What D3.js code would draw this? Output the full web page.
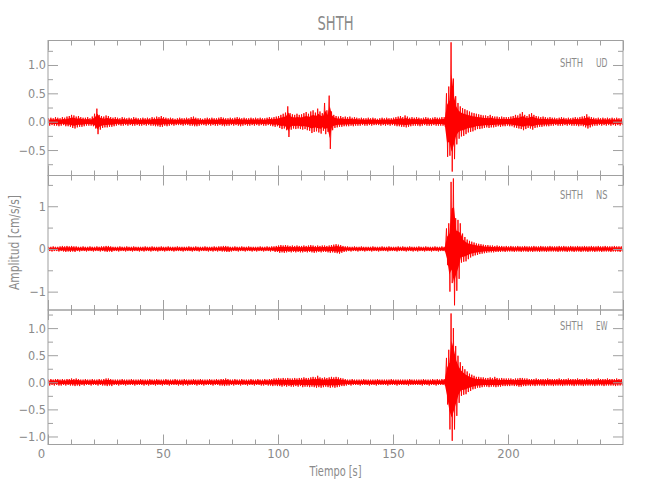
<!DOCTYPE html>
<html><head><meta charset="utf-8">
<script src="https://cdn.jsdelivr.net/npm/d3@7"></script>
<style>
body{margin:0;background:#fff}
text{font-family:"Liberation Sans Narrow","DejaVu Sans Condensed","Liberation Sans",sans-serif;fill:#8a8a8a}
.ax line,.ax path{stroke:#a0a0a0}
</style>
</head><body>
<svg id="c" width="650" height="500"></svg>
<script>
// ---- data (per-second envelope: max and |min| of the trace) ----
const station = "SHTH";
const components = ["UD", "NS", "EW"];
const xTickLabels = [0, 50, 100, 150, 200];

const udHi = [
0.06,0.07,0.06,0.08,0.07,0.06,0.08,0.07,0.09,0.10,
0.12,0.11,0.09,0.10,0.08,0.07,0.07,0.08,0.06,0.09,
0.14,0.23,0.12,0.10,0.09,0.11,0.10,0.08,0.07,0.08,
0.07,0.06,0.08,0.07,0.06,0.07,0.06,0.08,0.07,0.06,
0.06,0.07,0.06,0.07,0.06,0.08,0.07,0.09,0.08,0.10,
0.08,0.07,0.06,0.07,0.06,0.05,0.06,0.07,0.06,0.06,
0.07,0.06,0.08,0.09,0.07,0.06,0.06,0.05,0.06,0.07,
0.06,0.07,0.06,0.06,0.07,0.08,0.07,0.06,0.06,0.07,
0.06,0.07,0.08,0.07,0.06,0.07,0.06,0.06,0.07,0.06,
0.07,0.06,0.07,0.06,0.06,0.07,0.08,0.07,0.08,0.09,
0.10,0.12,0.14,0.16,0.27,0.15,0.13,0.12,0.14,0.12,
0.13,0.15,0.17,0.14,0.18,0.20,0.16,0.23,0.18,0.15,
0.33,0.20,0.46,0.18,0.12,0.10,0.09,0.10,0.08,0.09,
0.08,0.09,0.07,0.08,0.07,0.06,0.07,0.06,0.06,0.07,
0.06,0.07,0.06,0.05,0.06,0.07,0.06,0.07,0.06,0.06,
0.07,0.08,0.09,0.10,0.08,0.11,0.09,0.07,0.08,0.07,
0.08,0.07,0.06,0.07,0.08,0.07,0.06,0.07,0.08,0.07,
0.07,0.08,0.08,0.50,0.62,1.40,0.76,0.45,0.33,0.27,
0.24,0.22,0.20,0.18,0.16,0.15,0.14,0.13,0.12,0.11,
0.11,0.10,0.12,0.10,0.09,0.09,0.08,0.09,0.08,0.08,
0.08,0.09,0.10,0.12,0.11,0.14,0.17,0.12,0.10,0.13,
0.15,0.12,0.10,0.09,0.08,0.09,0.08,0.07,0.08,0.07,
0.07,0.06,0.07,0.08,0.07,0.06,0.07,0.06,0.07,0.08,
0.07,0.08,0.09,0.10,0.13,0.09,0.08,0.07,0.06,0.07,
0.06,0.07,0.06,0.07,0.06,0.07,0.06,0.07,0.06,0.06];
const udLo = [
0.07,0.06,0.07,0.07,0.08,0.07,0.06,0.08,0.08,0.09,
0.11,0.12,0.10,0.09,0.09,0.08,0.07,0.07,0.07,0.08,
0.12,0.22,0.14,0.11,0.10,0.10,0.09,0.09,0.08,0.07,
0.06,0.07,0.07,0.06,0.07,0.06,0.07,0.07,0.06,0.07,
0.07,0.06,0.07,0.06,0.07,0.07,0.08,0.08,0.09,0.09,
0.07,0.08,0.07,0.06,0.07,0.06,0.06,0.06,0.07,0.06,
0.06,0.07,0.07,0.08,0.08,0.07,0.06,0.06,0.07,0.06,
0.07,0.06,0.07,0.07,0.06,0.07,0.08,0.07,0.07,0.06,
0.07,0.06,0.07,0.08,0.07,0.06,0.07,0.07,0.06,0.07,
0.06,0.07,0.06,0.07,0.07,0.06,0.07,0.08,0.09,0.08,
0.11,0.13,0.12,0.15,0.27,0.14,0.12,0.13,0.12,0.13,
0.14,0.13,0.15,0.16,0.20,0.18,0.17,0.19,0.21,0.16,
0.22,0.18,0.48,0.15,0.11,0.10,0.09,0.09,0.08,0.08,
0.08,0.07,0.08,0.07,0.07,0.07,0.06,0.07,0.07,0.06,
0.07,0.06,0.06,0.06,0.07,0.06,0.07,0.06,0.07,0.06,
0.07,0.08,0.08,0.09,0.09,0.10,0.09,0.08,0.07,0.07,
0.07,0.08,0.07,0.06,0.07,0.07,0.07,0.06,0.07,0.07,
0.07,0.07,0.09,0.62,0.60,0.88,0.66,0.40,0.30,0.26,
0.25,0.22,0.19,0.18,0.17,0.15,0.13,0.13,0.12,0.11,
0.10,0.11,0.10,0.10,0.09,0.08,0.09,0.08,0.08,0.07,
0.08,0.08,0.10,0.11,0.12,0.13,0.15,0.13,0.11,0.12,
0.14,0.11,0.10,0.09,0.09,0.08,0.08,0.08,0.07,0.07,
0.06,0.07,0.07,0.07,0.06,0.07,0.06,0.07,0.07,0.07,
0.08,0.07,0.08,0.10,0.12,0.10,0.08,0.07,0.07,0.06,
0.07,0.06,0.07,0.06,0.07,0.06,0.07,0.06,0.07,0.06];

const nsHi = [
0.05,0.05,0.06,0.05,0.05,0.06,0.07,0.06,0.07,0.06,
0.07,0.06,0.06,0.05,0.05,0.06,0.05,0.05,0.06,0.05,
0.05,0.06,0.05,0.06,0.06,0.07,0.07,0.06,0.05,0.05,
0.05,0.06,0.05,0.05,0.06,0.05,0.05,0.06,0.05,0.05,
0.05,0.05,0.06,0.05,0.05,0.06,0.05,0.05,0.05,0.06,
0.05,0.05,0.06,0.05,0.05,0.05,0.06,0.05,0.05,0.05,
0.05,0.06,0.05,0.05,0.06,0.05,0.05,0.05,0.06,0.05,
0.05,0.05,0.06,0.05,0.06,0.06,0.07,0.07,0.06,0.05,
0.05,0.06,0.05,0.05,0.06,0.05,0.05,0.06,0.05,0.05,
0.05,0.05,0.06,0.05,0.05,0.06,0.05,0.06,0.06,0.07,
0.08,0.09,0.08,0.09,0.08,0.07,0.08,0.07,0.08,0.07,
0.07,0.08,0.07,0.08,0.09,0.08,0.07,0.08,0.07,0.08,
0.08,0.07,0.08,0.09,0.10,0.11,0.10,0.09,0.07,0.06,
0.06,0.05,0.05,0.06,0.05,0.05,0.06,0.05,0.05,0.05,
0.05,0.06,0.05,0.05,0.05,0.06,0.05,0.05,0.06,0.05,
0.05,0.05,0.06,0.05,0.06,0.05,0.05,0.06,0.05,0.05,
0.05,0.06,0.05,0.05,0.06,0.05,0.05,0.05,0.06,0.05,
0.05,0.06,0.05,0.48,0.60,1.57,1.65,0.72,0.68,0.60,
0.36,0.28,0.22,0.19,0.17,0.15,0.13,0.12,0.11,0.10,
0.09,0.09,0.08,0.08,0.07,0.08,0.07,0.07,0.06,0.07,
0.06,0.07,0.06,0.06,0.07,0.06,0.06,0.07,0.06,0.06,
0.06,0.07,0.06,0.06,0.07,0.06,0.06,0.06,0.07,0.06,
0.06,0.06,0.07,0.06,0.07,0.06,0.06,0.07,0.06,0.06,
0.07,0.06,0.06,0.07,0.06,0.06,0.07,0.06,0.06,0.07,
0.06,0.06,0.07,0.06,0.06,0.06,0.07,0.06,0.06,0.06];
const nsLo = [
0.05,0.06,0.05,0.05,0.06,0.05,0.06,0.07,0.06,0.07,
0.06,0.07,0.05,0.06,0.05,0.05,0.06,0.05,0.05,0.06,
0.05,0.05,0.06,0.05,0.06,0.07,0.06,0.07,0.05,0.05,
0.06,0.05,0.05,0.06,0.05,0.05,0.06,0.05,0.05,0.06,
0.05,0.06,0.05,0.05,0.06,0.05,0.05,0.06,0.05,0.05,
0.06,0.05,0.05,0.05,0.06,0.05,0.05,0.05,0.06,0.05,
0.05,0.05,0.06,0.05,0.05,0.06,0.05,0.05,0.05,0.06,
0.05,0.06,0.05,0.06,0.05,0.06,0.06,0.07,0.07,0.06,
0.05,0.05,0.06,0.05,0.05,0.06,0.05,0.05,0.06,0.05,
0.06,0.05,0.05,0.06,0.05,0.05,0.06,0.05,0.07,0.07,
0.09,0.08,0.09,0.08,0.07,0.08,0.07,0.08,0.07,0.08,
0.08,0.07,0.08,0.07,0.08,0.09,0.08,0.07,0.08,0.07,
0.07,0.08,0.09,0.08,0.09,0.10,0.11,0.09,0.07,0.06,
0.05,0.06,0.05,0.05,0.06,0.05,0.05,0.06,0.05,0.05,
0.06,0.05,0.05,0.06,0.05,0.05,0.05,0.06,0.05,0.05,
0.05,0.06,0.05,0.05,0.05,0.06,0.05,0.05,0.06,0.05,
0.06,0.05,0.05,0.06,0.05,0.05,0.06,0.05,0.05,0.06,
0.05,0.05,0.06,0.38,1.00,0.80,1.32,0.98,0.70,0.32,
0.30,0.29,0.24,0.20,0.17,0.15,0.14,0.12,0.11,0.10,
0.09,0.08,0.08,0.08,0.07,0.07,0.07,0.06,0.07,0.06,
0.06,0.06,0.07,0.06,0.06,0.07,0.06,0.06,0.07,0.06,
0.07,0.06,0.06,0.07,0.06,0.06,0.07,0.06,0.06,0.06,
0.06,0.07,0.06,0.06,0.06,0.07,0.06,0.06,0.07,0.06,
0.06,0.07,0.06,0.06,0.07,0.06,0.06,0.07,0.06,0.06,
0.07,0.06,0.06,0.06,0.07,0.06,0.06,0.06,0.07,0.06];

const ewHi = [
0.05,0.06,0.05,0.06,0.06,0.05,0.06,0.05,0.06,0.06,
0.07,0.06,0.07,0.06,0.05,0.05,0.06,0.05,0.05,0.06,
0.05,0.05,0.06,0.05,0.06,0.07,0.07,0.06,0.05,0.05,
0.05,0.05,0.06,0.05,0.05,0.05,0.06,0.05,0.05,0.05,
0.06,0.05,0.05,0.05,0.06,0.05,0.05,0.06,0.05,0.05,
0.05,0.06,0.05,0.05,0.05,0.06,0.05,0.05,0.05,0.06,
0.05,0.05,0.05,0.06,0.05,0.05,0.06,0.05,0.05,0.05,
0.06,0.05,0.05,0.06,0.05,0.06,0.06,0.07,0.06,0.05,
0.05,0.06,0.05,0.05,0.06,0.05,0.05,0.05,0.06,0.05,
0.05,0.06,0.05,0.05,0.06,0.05,0.06,0.06,0.07,0.07,
0.08,0.07,0.08,0.07,0.08,0.07,0.07,0.08,0.07,0.08,
0.08,0.09,0.08,0.08,0.09,0.10,0.09,0.12,0.09,0.08,
0.09,0.08,0.09,0.10,0.09,0.10,0.09,0.08,0.07,0.06,
0.05,0.05,0.06,0.05,0.05,0.05,0.05,0.06,0.05,0.05,
0.05,0.05,0.05,0.06,0.05,0.05,0.05,0.05,0.05,0.06,
0.05,0.05,0.05,0.05,0.05,0.05,0.05,0.06,0.05,0.05,
0.05,0.05,0.05,0.06,0.05,0.05,0.05,0.06,0.05,0.06,
0.05,0.06,0.06,0.45,0.60,1.27,1.00,0.67,0.49,0.37,
0.30,0.24,0.20,0.16,0.14,0.12,0.10,0.10,0.09,0.09,
0.08,0.08,0.09,0.08,0.10,0.08,0.07,0.08,0.07,0.07,
0.07,0.07,0.06,0.07,0.07,0.08,0.08,0.07,0.07,0.06,
0.06,0.06,0.07,0.06,0.06,0.06,0.06,0.07,0.06,0.06,
0.06,0.06,0.07,0.06,0.06,0.06,0.07,0.06,0.06,0.06,
0.07,0.06,0.06,0.06,0.07,0.06,0.06,0.06,0.06,0.07,
0.06,0.06,0.06,0.07,0.06,0.06,0.06,0.07,0.06,0.06];
const ewLo = [
0.06,0.05,0.06,0.05,0.06,0.06,0.05,0.06,0.05,0.06,
0.06,0.07,0.06,0.07,0.05,0.06,0.05,0.05,0.06,0.05,
0.05,0.06,0.05,0.06,0.06,0.07,0.06,0.07,0.05,0.05,
0.06,0.05,0.05,0.06,0.05,0.05,0.05,0.06,0.05,0.05,
0.05,0.06,0.05,0.06,0.05,0.05,0.06,0.05,0.05,0.06,
0.05,0.05,0.06,0.05,0.05,0.05,0.06,0.05,0.06,0.05,
0.06,0.05,0.05,0.05,0.06,0.05,0.05,0.06,0.05,0.05,
0.05,0.06,0.05,0.05,0.06,0.06,0.07,0.06,0.06,0.05,
0.06,0.05,0.05,0.06,0.05,0.05,0.06,0.05,0.05,0.06,
0.05,0.05,0.06,0.06,0.05,0.06,0.06,0.07,0.06,0.07,
0.07,0.08,0.07,0.08,0.07,0.08,0.08,0.07,0.08,0.07,
0.09,0.08,0.08,0.09,0.08,0.09,0.10,0.09,0.10,0.09,
0.08,0.09,0.10,0.09,0.10,0.09,0.08,0.07,0.07,0.06,
0.05,0.06,0.05,0.05,0.05,0.06,0.05,0.05,0.05,0.06,
0.05,0.05,0.06,0.05,0.05,0.05,0.05,0.06,0.05,0.05,
0.05,0.06,0.05,0.05,0.05,0.05,0.06,0.05,0.05,0.05,
0.05,0.05,0.06,0.05,0.05,0.06,0.05,0.05,0.06,0.05,
0.05,0.05,0.06,0.41,0.87,1.08,0.87,0.62,0.38,0.25,
0.23,0.22,0.18,0.16,0.13,0.12,0.10,0.10,0.09,0.08,
0.08,0.09,0.08,0.08,0.09,0.08,0.08,0.07,0.07,0.07,
0.07,0.06,0.07,0.07,0.08,0.08,0.07,0.07,0.06,0.07,
0.06,0.07,0.06,0.06,0.06,0.07,0.06,0.06,0.06,0.07,
0.06,0.06,0.06,0.07,0.06,0.06,0.06,0.06,0.07,0.06,
0.06,0.06,0.07,0.06,0.06,0.06,0.06,0.07,0.06,0.06,
0.06,0.07,0.06,0.06,0.06,0.06,0.07,0.06,0.06,0.06];

// ---- layout ----
const svg = d3.select("#c");
const x = d3.scaleLinear().domain([0, 250]).range([48, 623]);

const panels = [
  {comp: components[0], hi: udHi, lo: udLo, dom: [-0.949, 1.432], top: 40.5, bot: 175.5, major: 0.5, minor: 0.25, fmt: ".1f", labY: 67},
  {comp: components[1], hi: nsHi, lo: nsLo, dom: [-1.43, 1.72], top: 175.5, bot: 310, major: 1, minor: 0.5, fmt: "d", labY: 199},
  {comp: components[2], hi: ewHi, lo: ewLo, dom: [-1.148, 1.334], top: 310, bot: 444.5, major: 0.5, minor: 0.25, fmt: ".1f", labY: 330}
];

function ticksIn(dom, step) {
  const a = Math.ceil(dom[0] / step - 1e-9), b = Math.floor(dom[1] / step + 1e-9);
  return d3.range(a, b + 1).map(k => +(k * step).toFixed(4));
}

const xMajor = xTickLabels.concat([250]);
const xMinor = ticksIn([0, 250], 10).filter(v => v % 50 !== 0);
const coreShare = 0.6; // solid core of the band; spikes reach the full envelope

panels.forEach((p, i) => {
  const y = d3.scaleLinear().domain(p.dom).range([p.bot, p.top]);
  const clipId = "clip" + i;
  svg.append("clipPath").attr("id", clipId).append("rect")
    .attr("x", x.range()[0]).attr("y", p.top).attr("width", x.range()[1] - x.range()[0]).attr("height", p.bot - p.top);

  const g = svg.append("g").attr("clip-path", `url(#${clipId})`);
  const bins = p.hi.map((h, k) => ({t: k, hi: h, lo: -p.lo[k]}));
  const area = d3.area().x(d => x(d.t + 0.5)).y0(d => y(d.lo * coreShare)).y1(d => y(d.hi * coreShare));
  g.append("path").datum(bins).attr("d", area).attr("fill", "#ff0000");
  const pts = [];
  bins.forEach(b => { pts.push([b.t + 0.25, b.hi]); pts.push([b.t + 0.75, b.lo]); });
  const line = d3.line().x(d => x(d[0])).y(d => y(d[1]));
  g.append("path").datum(pts).attr("d", line)
    .attr("fill", "none").attr("stroke", "#ff0000").attr("stroke-width", 0.9);

  const yMaj = ticksIn(p.dom, p.major);
  const yMin = ticksIn(p.dom, p.minor).filter(v => !yMaj.some(m => Math.abs(m - v) < 1e-6));
  const fmt = d3.format(p.fmt);

  const gL = svg.append("g").attr("class", "ax").attr("transform", `translate(${x.range()[0]},0)`);
  gL.call(d3.axisLeft(y).tickValues(yMaj).tickSize(-10).tickSizeOuter(0).tickPadding(2).tickFormat(fmt));
  gL.append("g").call(d3.axisLeft(y).tickValues(yMin).tickSize(-5).tickSizeOuter(0).tickFormat(""));
  const gR = svg.append("g").attr("class", "ax").attr("transform", `translate(${x.range()[1]},0)`);
  gR.call(d3.axisRight(y).tickValues(yMaj).tickSize(-10).tickSizeOuter(0).tickFormat(""));
  gR.append("g").call(d3.axisRight(y).tickValues(yMin).tickSize(-5).tickSizeOuter(0).tickFormat(""));

  const gT = svg.append("g").attr("class", "ax").attr("transform", `translate(0,${p.top})`);
  gT.call(d3.axisTop(x).tickValues(xMajor).tickSize(-10).tickSizeOuter(0).tickFormat(""));
  gT.append("g").call(d3.axisTop(x).tickValues(xMinor).tickSize(-5).tickSizeOuter(0).tickFormat(""));
  const isLast = i === panels.length - 1;
  const gB = svg.append("g").attr("class", "ax" + (isLast ? " xb" : "")).attr("transform", `translate(0,${p.bot})`);
  gB.call(d3.axisBottom(x).tickValues(isLast ? xTickLabels : xMajor).tickSize(-10).tickSizeOuter(0).tickPadding(4)
    .tickFormat(isLast ? d3.format("d") : ""));
  gB.append("g").call(d3.axisBottom(x).tickValues(xMinor).tickSize(-5).tickSizeOuter(0).tickFormat(""));

  svg.selectAll(".ax .domain").remove();
  svg.append("rect").attr("x", x.range()[0]).attr("y", p.top)
    .attr("width", x.range()[1] - x.range()[0]).attr("height", p.bot - p.top)
    .attr("fill", "none").attr("stroke", "#a0a0a0").attr("stroke-width", 1);

  svg.append("text").attr("x", 560).attr("y", p.labY).attr("font-size", 13)
    .attr("textLength", 23).attr("lengthAdjust", "spacingAndGlyphs").text(station);
  svg.append("text").attr("x", 596).attr("y", p.labY).attr("font-size", 13)
    .attr("textLength", 11.5).attr("lengthAdjust", "spacingAndGlyphs").text(p.comp);
});

svg.selectAll(".ax text").attr("fill", "#8a8a8a").attr("font-size", 12.5).attr("font-family", null);
svg.selectAll(".xb .tick text").attr("font-size", 13);
// the "0" of the time axis sits slightly left of the frame, as in the reference
svg.selectAll(".xb .tick text").filter(d => d === 0).attr("dx", -7);

svg.append("text").attr("x", (x.range()[0] + x.range()[1]) / 2).attr("y", 30)
  .attr("text-anchor", "middle").attr("font-size", 20).attr("fill", "#9a9a9a")
  .attr("textLength", 36).attr("lengthAdjust", "spacingAndGlyphs").text(station);

svg.append("text").attr("x", (x.range()[0] + x.range()[1]) / 2).attr("y", 476)
  .attr("text-anchor", "middle").attr("font-size", 13.5)
  .attr("textLength", 52).attr("lengthAdjust", "spacingAndGlyphs").text("Tiempo [s]");

svg.append("text").attr("transform", "translate(19,242.5) rotate(-90)")
  .attr("text-anchor", "middle").attr("font-size", 14)
  .attr("textLength", 95).attr("lengthAdjust", "spacingAndGlyphs").text("Amplitud [cm/s/s]");
</script>
</body></html>
